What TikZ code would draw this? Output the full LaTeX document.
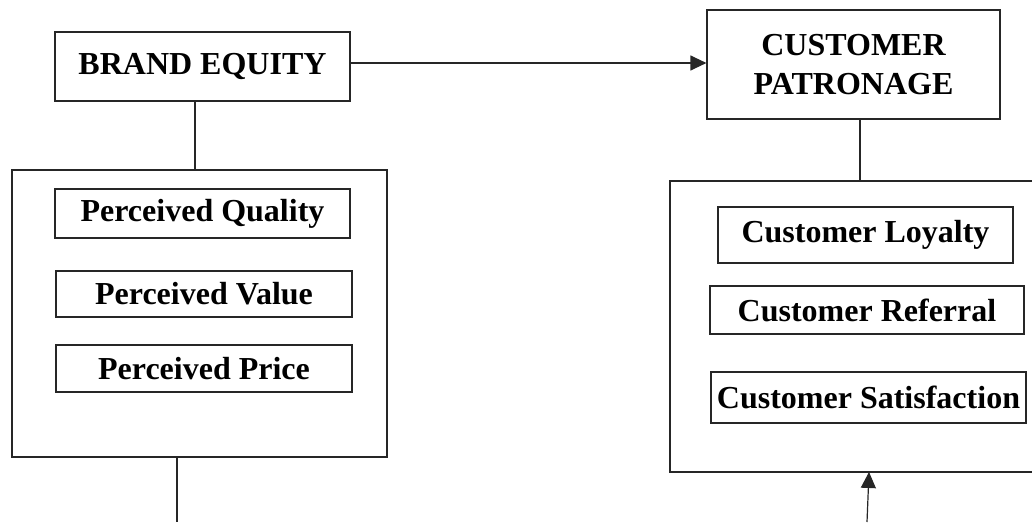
\documentclass[tikz,border=0pt]{standalone}
\usepackage{fontspec}
\setmainfont{Liberation Serif}
\usetikzlibrary{arrows.meta}
\begin{document}
\begin{tikzpicture}[x=1pt,y=1pt,
  line width=1.2pt, draw=black!85,
  box/.style={draw=black!85, line width=1.2pt, inner sep=0pt, align=center,
    font=\fontsize{32}{39}\selectfont\bfseries},
  outer/.style={draw=black!85, line width=1.2pt, inner sep=0pt},
  arr/.style={-{Triangle[length=16pt,width=15pt]}}]
\useasboundingbox (0,0) rectangle (1032,-522);
% left group
\node[box, minimum width=295pt, minimum height=69pt] (brand) at (202.5,-66.5) {BRAND EQUITY};
\node[outer, minimum width=375pt, minimum height=287pt] (leftbox) at (199.5,-313.5) {};
\node[box, minimum width=295pt, minimum height=49pt] (pq) at (202.5,-213.5) {Perceived Quality};
\node[box, minimum width=296pt, minimum height=46pt] (pv) at (204,-294) {Perceived Value};
\node[box, minimum width=296pt, minimum height=47pt] (pp) at (204,-368.5) {Perceived Price};
% right group
\node[box, minimum width=293pt, minimum height=109pt] (patronage) at (853.5,-64.5) {CUSTOMER\\PATRONAGE};
\node[outer, minimum width=375pt, minimum height=291pt] (rightbox) at (857.5,-326.5) {};
\node[box, minimum width=295pt, minimum height=56pt] (loyalty) at (865.5,-235) {Customer Loyalty};
\node[box, minimum width=314pt, minimum height=48pt] (referral) at (867,-310) {Customer Referral};
\node[box, minimum width=315pt, minimum height=51pt] (satisf) at (868.5,-397.5) {Customer Satisfaction};
% connectors
\draw[arr] ([yshift=3.5pt]brand.east) -- ([yshift=3.5pt]brand.east -| patronage.west);
\draw ([xshift=-7.5pt]brand.south) -- ([xshift=-7.5pt]brand.south |- leftbox.north);
\coordinate (lb) at (177,-522);
\draw (leftbox.south -| lb) -- (lb);
\draw ([xshift=6.5pt]patronage.south) -- ([xshift=6.5pt]patronage.south |- rightbox.north);
\coordinate (ra) at (867,-522);
\coordinate (rt) at (869,-472);
\draw[arr] (ra) -- (rt);
\end{tikzpicture}
\end{document}
